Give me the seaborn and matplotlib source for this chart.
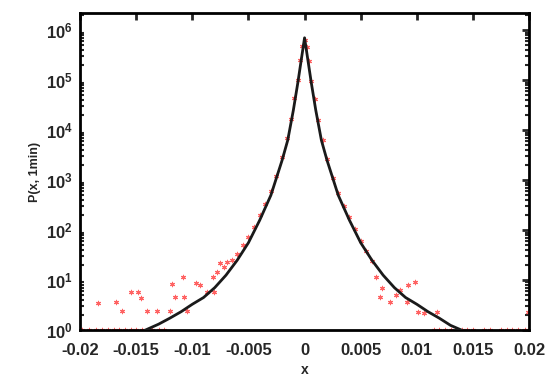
import numpy as np
import pandas as pd
import matplotlib
matplotlib.use("Agg")
import matplotlib.pyplot as plt
import seaborn as sns
from matplotlib.ticker import FixedLocator, FixedFormatter, LogLocator, NullFormatter

# ---- data ----
# fitted curve (symmetric), x and P values
curve_x = [-0.0142, -0.013, -0.012, -0.011, -0.010, -0.009, -0.008, -0.007, -0.006,
           -0.005, -0.004, -0.003, -0.002, -0.0015, -0.001, -0.0006, -0.0003, 0.0,
           0.0003, 0.0006, 0.001, 0.0015, 0.002, 0.003, 0.004, 0.005, 0.006, 0.007,
           0.008, 0.009, 0.010, 0.011, 0.012, 0.013, 0.0140]
curve_y = [1.0, 1.32, 1.74, 2.34, 3.3, 4.5, 7.1, 12.6, 25.1,
           56.2, 158, 501, 2512, 6310, 25100, 89100, 251000, 708000,
           251000, 89100, 25100, 6310, 2512, 501, 158, 56.2, 25.1, 12.6,
           7.1, 4.5, 3.3, 2.34, 1.74, 1.25, 1.0]

# empirical points
data_x = [-0.0198, -0.0192, -0.0186, -0.0180, -0.0175, -0.0170, -0.0165, -0.0160,
          -0.0155, -0.0150, -0.0145, -0.0136, -0.0130, -0.0125,
          -0.0184, -0.0168, -0.0163, -0.0155, -0.0148, -0.0146, -0.0140, -0.0131,
          -0.0120, -0.0118, -0.0108, -0.0115, -0.0105, -0.0107, -0.0097, -0.0093,
          -0.0087, -0.0081, -0.0082, -0.0078, -0.0075, -0.0072, -0.0069, -0.0065,
          -0.0060, -0.0055, -0.0050, -0.0045, -0.0040, -0.0035, -0.0030, -0.0025,
          -0.0020, -0.0016, -0.0012, -0.0009, -0.0006, -0.0004, -0.0002, 0.0,
          0.0002, 0.0004, 0.0006, 0.0009, 0.0012, 0.0016, 0.0020, 0.0025, 0.0030,
          0.0035, 0.0040, 0.0045, 0.0050, 0.0055, 0.0060, 0.0064, 0.0069, 0.0067,
          0.0076, 0.0081, 0.0085, 0.0091, 0.0092, 0.0098, 0.0101, 0.0106, 0.0118,
          0.0199, 0.0115, 0.0120, 0.0125, 0.0130, 0.0140, 0.0145, 0.0150, 0.0160,
          0.0165, 0.0175, 0.0180, 0.0185, 0.0190, 0.0196]
data_y = [1.0, 1.0, 1.0, 1.0, 1.0, 1.0, 1.0, 1.0,
          1.0, 1.0, 1.0, 1.0, 1.0, 1.0,
          3.5, 3.6, 2.4, 5.8, 5.8, 4.4, 2.4, 2.4,
          2.4, 8.3, 11.5, 4.6, 2.4, 4.6, 8.7, 7.9,
          5.8, 5.8, 11.5, 14.5, 21.9, 18.2, 22.9, 25.1,
          33.0, 50.0, 72.0, 115, 200, 330, 600, 1200,
          2900, 7000, 17000, 45000, 100000, 260000, 480000, 650000,
          470000, 240000, 95000, 42000, 16000, 6500, 2700, 1100, 560,
          300, 180, 105, 62, 38, 24, 11.5, 6.9, 4.6,
          3.6, 5.0, 6.3, 3.6, 7.9, 9.1, 2.3, 2.2, 2.3,
          2.3, 1.0, 1.0, 1.0, 1.0, 1.0, 1.0, 1.0, 1.0,
          1.0, 1.0, 1.0, 1.0, 1.0, 1.0]

x_ticks = [-0.02, -0.015, -0.01, -0.005, 0.0, 0.005, 0.01, 0.015, 0.02]
x_tick_labels = ["-0.02", "-0.015", "-0.01", "-0.005", "0", "0.005", "0.01", "0.015", "0.02"]
y_ticks = [1, 10, 100, 1000, 10000, 100000, 1000000]
y_tick_labels = [r"$\mathbf{10^{0}}$", r"$\mathbf{10^{1}}$", r"$\mathbf{10^{2}}$",
                 r"$\mathbf{10^{3}}$", r"$\mathbf{10^{4}}$", r"$\mathbf{10^{5}}$",
                 r"$\mathbf{10^{6}}$"]

df_curve = pd.DataFrame({"x": curve_x, "P": curve_y})
df_data = pd.DataFrame({"x": data_x, "P": data_y})

sns.set_style("white")
plt.rcParams["font.family"] = ["Liberation Sans", "DejaVu Sans"]
plt.rcParams["mathtext.fontset"] = "custom"
plt.rcParams["mathtext.bf"] = "Liberation Sans:bold"
plt.rcParams["mathtext.rm"] = "Liberation Sans"

fig = plt.figure(figsize=(5.5, 3.88), dpi=100)
ax = fig.add_axes([0.1455, 0.149, 0.8165, 0.817])

sns.scatterplot(data=df_data, x="x", y="P", ax=ax, marker=(6, 2, 0), s=10,
                color="#ff4848", edgecolor="#ff4848", linewidth=0.8, alpha=0.85, zorder=2)
sns.lineplot(data=df_curve, x="x", y="P", ax=ax, color="#1a1a1a", linewidth=2.0,
             sort=True, estimator=None, zorder=3)

ax.set_yscale("log")
ax.set_xlim(-0.02, 0.02)
ax.set_ylim(1, 2.2e6)

ax.xaxis.set_major_locator(FixedLocator(x_ticks))
ax.xaxis.set_major_formatter(FixedFormatter(x_tick_labels))
ax.yaxis.set_major_locator(FixedLocator(y_ticks))
ax.yaxis.set_major_formatter(FixedFormatter(y_tick_labels))
ax.yaxis.set_minor_locator(LogLocator(base=10, subs=np.arange(2, 10), numticks=20))
ax.yaxis.set_minor_formatter(NullFormatter())

ax.tick_params(axis="both", which="major", direction="in", length=5, width=2,
               top=True, right=True, labelsize=12, pad=5)
ax.tick_params(axis="x", which="major", pad=9)
ax.tick_params(axis="y", which="minor", direction="in", length=3, width=1.5,
               left=True, right=True)
for lab in ax.get_xticklabels() + ax.get_yticklabels():
    lab.set_fontweight("bold")
for sp in ax.spines.values():
    sp.set_linewidth(2)
    sp.set_color("black")

ax.set_xlabel("x", fontsize=10, fontweight="bold", labelpad=4)
ax.set_ylabel("P(x, 1min)", fontsize=9, fontweight="bold", labelpad=4)

fig.savefig("out.png", dpi=100)
